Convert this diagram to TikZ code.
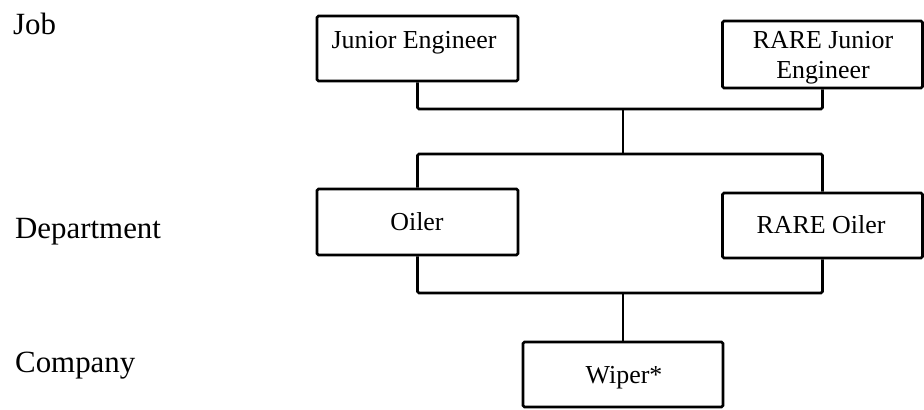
\documentclass[tikz,border=0pt]{standalone}
\usepackage{fontspec}
\setmainfont{Liberation Serif}
\begin{document}
\begin{tikzpicture}[x=1bp,y=-1bp,
  box/.style={draw=black, line width=2.6bp, inner sep=0pt, rounded corners=1.5bp, fill=white},
  btext/.style={font=\fontsize{26}{30}\selectfont, inner sep=0pt, anchor=base, align=center},
  lvl/.style={font=\fontsize{31}{36}\selectfont, inner sep=0pt, anchor=base west},
  conn/.style={draw=black, line width=2.6bp, rounded corners=1.5bp}]
\path[use as bounding box] (0,0) rectangle (924,409);
% level labels
\node[lvl] (job) at (13,34) {Job};
\node[lvl] (dept) at (15,238) {Department};
\node[lvl] (comp) at (15,372) {Company};
% connectors
\coordinate (top) at (623,109);
\coordinate (mid) at (623,154);
\coordinate (bot) at (623,293);
% boxes
\node[box, minimum width=201bp, minimum height=65bp] (je) at (417.5,48.5) {};
\node[box, minimum width=200bp, minimum height=67bp] (rje) at (822.5,54.5) {};
\node[box, minimum width=201bp, minimum height=66bp] (oil) at (417.5,222) {};
\node[box, minimum width=200bp, minimum height=65bp] (roil) at (822.5,225.5) {};
\node[box, minimum width=200bp, minimum height=65bp] (wip) at (623,374.5) {};
\draw[conn] (je.south) |- (top) -| (rje.south);
\draw[conn] (top) -- (mid);
\draw[conn] (oil.north) |- (mid) -| (roil.north);
\draw[conn] (oil.south) |- (bot) -| (roil.south);
\draw[conn] (bot) -- (wip.north);
% box texts
\node[btext] (jet) at (414,48) {Junior Engineer};
\node[btext] (rjet) at (823,78) {RARE Junior\\Engineer};
\node[btext] (oilt) at (417,230) {Oiler};
\node[btext] (roilt) at (821,233) {RARE Oiler};
\node[btext] (wipt) at (624,383) {Wiper*};
\end{tikzpicture}
\end{document}
